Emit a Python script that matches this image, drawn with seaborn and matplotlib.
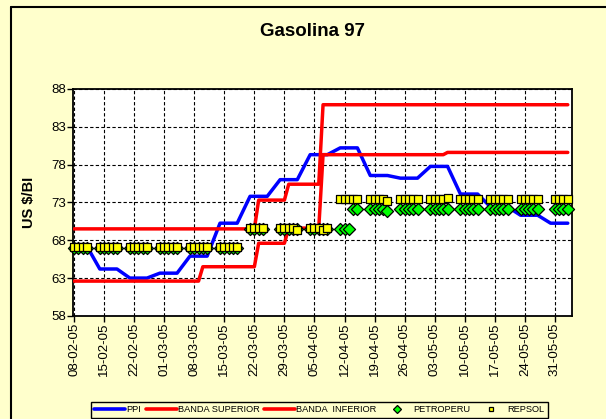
import numpy as np
import pandas as pd
import matplotlib.pyplot as plt
import matplotlib.dates as mdates
from matplotlib.lines import Line2D
import seaborn as sns

nan = np.nan

# business days 08-02-05 .. 03-06-05 (one row per week in the lists below)
dates = pd.bdate_range("2005-02-08", "2005-06-03")

ppi = [
    67.2, 67.2, 67.2, 67.2,
    64.2, 64.2, 64.2, 64.2, 64.2,
    63.0, 63.0, 63.0, 63.0, 63.0,
    63.65, 63.65, 63.65, 63.65, 63.65,
    65.9, 65.9, 65.9, 65.9, 65.9,
    70.25, 70.25, 70.25, 70.25, 70.25,
    73.8, 73.8, 73.8, 73.8, 73.8,
    76.0, 76.0, 76.0, 76.0, 76.0,
    79.3, 79.3, 79.3, 79.3, 79.3,
    80.2, 80.2, 80.2, 80.2, 80.2,
    76.55, 76.55, 76.55, 76.55, 76.55,
    76.2, 76.2, 76.2, 76.2, 76.2,
    77.75, 77.75, 77.75, 77.75, 77.75,
    74.1, 74.1, 74.1, 74.1, 74.1,
    72.4, 72.4, 72.4, 72.4, 72.4,
    71.3, 71.3, 71.3, 71.3, 71.3,
    70.25, 70.25, 70.25, 70.25, 70.25,
]

banda_superior = [
    69.5, 69.5, 69.5, 69.5,
    69.5, 69.5, 69.5, 69.5, 69.5,
    69.5, 69.5, 69.5, 69.5, 69.5,
    69.5, 69.5, 69.5, 69.5, 69.5,
    69.5, 69.5, 69.5, 69.5, 69.5,
    69.5, 69.5, 69.5, 69.5, 69.5,
    69.5, 69.5, 73.3, 73.3, 73.3,
    73.3, 73.3, 75.4, 75.4, 75.4,
    75.4, 75.4, 75.4, 85.9, 85.9,
    85.9, 85.9, 85.9, 85.9, 85.9,
    85.9, 85.9, 85.9, 85.9, 85.9,
    85.9, 85.9, 85.9, 85.9, 85.9,
    85.9, 85.9, 85.9, 85.9, 85.9,
    85.9, 85.9, 85.9, 85.9, 85.9,
    85.9, 85.9, 85.9, 85.9, 85.9,
    85.9, 85.9, 85.9, 85.9, 85.9,
    85.9, 85.9, 85.9, 85.9, 85.9,
]

banda_inferior = [
    62.6, 62.6, 62.6, 62.6,
    62.6, 62.6, 62.6, 62.6, 62.6,
    62.6, 62.6, 62.6, 62.6, 62.6,
    62.6, 62.6, 62.6, 62.6, 62.6,
    62.6, 62.6, 62.6, 64.5, 64.5,
    64.5, 64.5, 64.5, 64.5, 64.5,
    64.5, 64.5, 67.6, 67.6, 67.6,
    67.6, 67.6, 69.6, 69.6, 69.6,
    69.6, 69.6, 69.6, 79.3, 79.3,
    79.3, 79.3, 79.3, 79.3, 79.3,
    79.3, 79.3, 79.3, 79.3, 79.3,
    79.3, 79.3, 79.3, 79.3, 79.3,
    79.3, 79.3, 79.3, 79.3, 79.6,
    79.6, 79.6, 79.6, 79.6, 79.6,
    79.6, 79.6, 79.6, 79.6, 79.6,
    79.6, 79.6, 79.6, 79.6, 79.6,
    79.6, 79.6, 79.6, 79.6, 79.6,
]

petroperu = [
    67.0, 67.0, 67.0, 67.0,
    67.0, 67.0, 67.0, 67.0, 67.0,
    67.0, 67.0, 67.0, 67.0, 67.0,
    67.0, 67.0, 67.0, 67.0, 67.0,
    67.0, 67.0, 67.0, 67.0, 67.0,
    67.0, 67.0, 67.0, 67.0, 67.0,
    69.5, 69.5, 69.5, 69.5, nan,
    69.5, 69.5, 69.5, 69.5, 69.5,
    69.5, 69.5, 69.5, 69.5, 69.5,
    69.5, 69.5, 69.5, 72.1, 72.1,
    72.1, 72.1, 72.1, 72.1, 71.8,
    72.1, 72.1, 72.1, 72.1, 72.1,
    72.1, 72.1, 72.1, 72.1, 72.1,
    72.1, 72.1, 72.1, 72.1, 72.1,
    72.1, 72.1, 72.1, 72.1, 72.1,
    72.1, 72.1, 72.1, 72.1, 72.1,
    nan, 72.1, 72.1, 72.1, 72.1,
]

repsol = [
    67.1, 67.1, 67.1, 67.1,
    67.1, 67.1, 67.1, 67.1, 67.1,
    67.1, 67.1, 67.1, 67.1, 67.1,
    67.1, 67.1, 67.1, 67.1, 67.1,
    67.1, 67.1, 67.1, 67.1, 67.1,
    67.1, 67.1, 67.1, 67.1, 67.1,
    69.6, 69.6, 69.6, 69.6, nan,
    69.6, 69.6, 69.6, 69.6, 69.4,
    69.6, 69.6, 69.6, 69.4, 69.6,
    73.5, 73.5, 73.5, 73.5, 73.5,
    73.5, 73.5, 73.5, 73.5, 73.2,
    73.5, 73.5, 73.5, 73.5, 73.5,
    73.5, 73.5, 73.5, 73.5, 73.6,
    73.5, 73.5, 73.5, 73.5, 73.5,
    73.5, 73.5, 73.5, 73.5, 73.5,
    73.5, 73.5, 73.5, 73.5, 73.5,
    nan, 73.5, 73.5, 73.5, 73.5,
]

df = pd.DataFrame({
    "fecha": dates,
    "PPI": ppi,
    "BANDA SUPERIOR": banda_superior,
    "BANDA INFERIOR": banda_inferior,
    "PETROPERU": petroperu,
    "REPSOL": repsol,
})

bg = "#FFFFCC"
blue = "#0000FF"
red = "#FF0000"
green = "#00FF00"
yellow = "#FFFF00"

sns.set_theme(style="white")
plt.rcParams["font.family"] = ["Liberation Sans", "DejaVu Sans"]
plt.rcParams["text.color"] = "black"
plt.rcParams["xtick.color"] = "black"
plt.rcParams["ytick.color"] = "black"

fig = plt.figure(figsize=(6.06, 4.19), dpi=100, facecolor=bg)
ax = fig.add_axes([0.121, 0.246, 0.823, 0.542])
ax.set_facecolor("white")

sns.lineplot(data=df, x="fecha", y="PPI", color=blue, lw=2.5, ax=ax, zorder=3)
sns.lineplot(data=df, x="fecha", y="BANDA SUPERIOR", color=red, lw=2.5, ax=ax, zorder=3)
sns.lineplot(data=df, x="fecha", y="BANDA INFERIOR", color=red, lw=2.5, ax=ax, zorder=3)
sns.scatterplot(data=df, x="fecha", y="PETROPERU", marker="D", s=38, color=green,
                edgecolor="black", linewidth=0.9, ax=ax, zorder=4, clip_on=False)
sns.scatterplot(data=df, x="fecha", y="REPSOL", marker="s", s=34, color=yellow,
                edgecolor="black", linewidth=0.9, ax=ax, zorder=5, clip_on=False)

ax.set_xlim(pd.Timestamp("2005-02-07 20:00"), pd.Timestamp("2005-06-04"))
ax.set_ylim(58, 88)
ax.set_yticks(np.arange(58, 89, 5))
ax.set_xticks(pd.date_range("2005-02-08", "2005-05-31", freq="7D"))
ax.xaxis.set_major_formatter(mdates.DateFormatter("%d-%m-%y"))
ax.tick_params(axis="x", labelrotation=90, labelsize=9.5, length=4, width=1,
               direction="out", bottom=True, colors="black", pad=1)
ax.tick_params(axis="y", labelsize=9.5, length=4, width=1, direction="out",
               left=True, colors="black", pad=1)
ax.grid(True, color="black", linestyle=(0, (3, 2)), linewidth=0.8)
ax.set_axisbelow(True)
for s in ax.spines.values():
    s.set_color("black")
    s.set_linewidth(1.3)
ax.set_xlabel("")
ax.set_ylabel("")

fig.text(0.515, 0.924, "Gasolina 97", ha="center", va="center",
         fontsize=13.5, fontweight="bold", color="black")
fig.text(0.048, 0.518, "US $/BI", ha="center", va="center", rotation=90,
         fontsize=10.5, fontweight="bold", color="black")

# outer chart border (right and bottom edges fall outside the picture)
fig.add_artist(Line2D([11 / 606, 11 / 606], [0, 1 - 7 / 419], color="black", lw=1.5))
fig.add_artist(Line2D([11 / 606, 1], [1 - 7 / 419, 1 - 7 / 419], color="black", lw=1.5))

handles = [
    Line2D([], [], color=blue, lw=2.6),
    Line2D([], [], color=red, lw=2.6),
    Line2D([], [], color=red, lw=2.6),
    Line2D([], [], ls="none", marker="D", ms=4, mfc=green, mec="black", mew=0.9),
    Line2D([], [], ls="none", marker="s", ms=3.5, mfc=yellow, mec="black", mew=0.9),
]
labels = ["PPI", "BANDA SUPERIOR", "BANDA  INFERIOR", "PETROPERU", "REPSOL"]
leg = fig.legend(handles, labels, loc="upper center", bbox_to_anchor=(0.527, 1 - 402 / 419),
                 ncol=5, fontsize=6.7, handlelength=3.3, handletextpad=0.15,
                 columnspacing=0.5, borderpad=0.35, borderaxespad=0, fancybox=False,
                 edgecolor="black", facecolor=bg, framealpha=1)
leg.get_frame().set_linewidth(1)
for t in leg.get_texts():
    t.set_color("black")

fig.savefig("out.png", dpi=100, facecolor=bg)
